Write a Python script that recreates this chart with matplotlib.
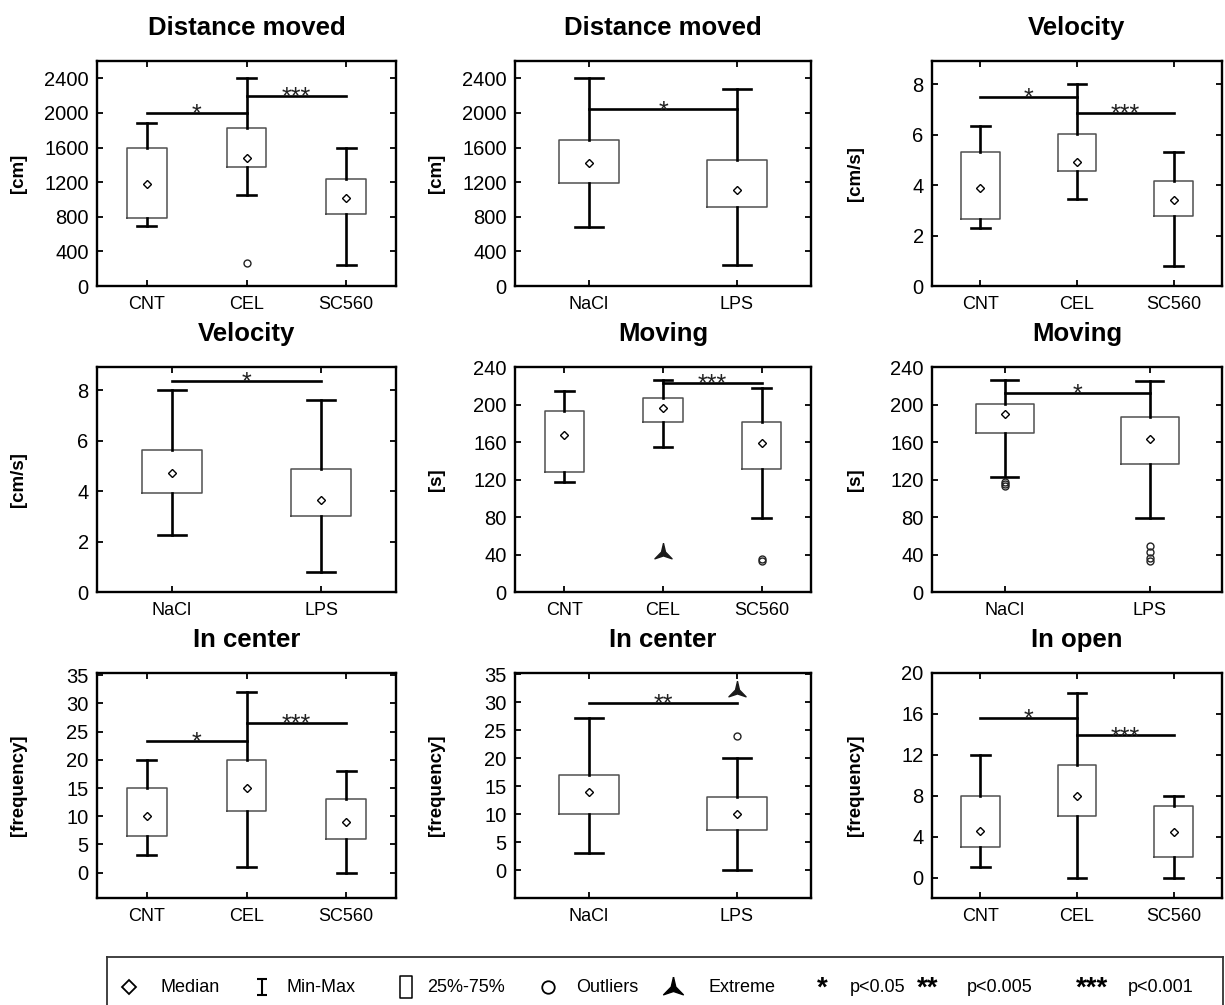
import matplotlib
matplotlib.use('Agg')
import matplotlib.pyplot as plt
from matplotlib.path import Path

plt.rcParams['font.family'] = ['Liberation Sans', 'DejaVu Sans']

groups3 = ['CNT', 'CEL', 'SC560']
groups2 = ['NaCl', 'LPS']

# Distance moved [cm], CNT / CEL / SC560
dist3_min = [690, 1050, 240]
dist3_q1 = [790, 1370, 830]
dist3_med = [1175, 1480, 1020]
dist3_q3 = [1590, 1825, 1240]
dist3_max = [1885, 2400, 1590]
dist3_out = [[], [270], []]
dist3_ext = [[], [], []]
dist3_sig = [(1, 2, 2000, '*'), (2, 3, 2200, '***')]

# Distance moved [cm], NaCl / LPS
dist2_min = [686, 247]
dist2_q1 = [1186, 909]
dist2_med = [1418, 1109]
dist2_q3 = [1687, 1460]
dist2_max = [2408, 2281]
dist2_out = [[], []]
dist2_ext = [[], []]
dist2_sig = [(1, 2, 2040, '*')]

# Velocity [cm/s], CNT / CEL / SC560
vel3_min = [2.31, 3.47, 0.80]
vel3_q1 = [2.64, 4.57, 2.79]
vel3_med = [3.88, 4.94, 3.42]
vel3_q3 = [5.33, 6.03, 4.16]
vel3_max = [6.34, 8.01, 5.30]
vel3_out = [[], [], []]
vel3_ext = [[], [], []]
vel3_sig = [(1, 2, 7.49, '*'), (2, 3, 6.87, '***')]

# Velocity [cm/s], NaCl / LPS
vel2_min = [2.27, 0.80]
vel2_q1 = [3.93, 3.00]
vel2_med = [4.71, 3.64]
vel2_q3 = [5.62, 4.87]
vel2_max = [8.03, 7.63]
vel2_out = [[], []]
vel2_ext = [[], []]
vel2_sig = [(1, 2, 8.39, '*')]

# Moving [s], CNT / CEL / SC560
mov3_min = [117, 155, 79]
mov3_q1 = [127.7, 181.5, 131.6]
mov3_med = [168, 196, 158.7]
mov3_q3 = [192.6, 206.5, 181]
mov3_max = [214, 226.5, 218]
mov3_out = [[], [], [35, 33]]
mov3_ext = [[], [43], []]
mov3_sig = [(2, 3, 223, '***')]

# Moving [s], NaCl / LPS
mov2_min = [123, 79]
mov2_q1 = [169.4, 136.2]
mov2_med = [190, 163.3]
mov2_q3 = [200.7, 186.2]
mov2_max = [226.5, 224.7]
mov2_out = [[117, 115, 113], [49, 43, 36, 33]]
mov2_ext = [[], []]
mov2_sig = [(1, 2, 212, '*')]

# In center [frequency], CNT / CEL / SC560
cen3_min = [3.1, 1.0, 0]
cen3_q1 = [6.5, 11, 6]
cen3_med = [10, 15, 9]
cen3_q3 = [15, 20, 13]
cen3_max = [20, 32, 18]
cen3_out = [[], [], []]
cen3_ext = [[], [], []]
cen3_sig = [(1, 2, 23.3, '*'), (2, 3, 26.5, '***')]

# In center [frequency], NaCl / LPS
cen2_min = [3, 0]
cen2_q1 = [10, 7.1]
cen2_med = [14, 10]
cen2_q3 = [17, 13]
cen2_max = [27.2, 20]
cen2_out = [[], [24]]
cen2_ext = [[], [32.2]]
cen2_sig = [(1, 2, 29.9, '**')]

# In open [frequency], CNT / CEL / SC560
open3_min = [1.05, 0, 0]
open3_q1 = [3, 6, 2]
open3_med = [4.55, 8, 4.5]
open3_q3 = [8, 11, 7]
open3_max = [12, 18, 8]
open3_out = [[], [], []]
open3_ext = [[], [], []]
open3_sig = [(1, 2, 15.6, '*'), (2, 3, 13.9, '***')]

panels = [
    ('Distance moved', '[cm]', groups3, dist3_min, dist3_q1, dist3_med, dist3_q3, dist3_max,
     dist3_out, dist3_ext, dist3_sig, (0, 2600), range(0, 2401, 400)),
    ('Distance moved', '[cm]', groups2, dist2_min, dist2_q1, dist2_med, dist2_q3, dist2_max,
     dist2_out, dist2_ext, dist2_sig, (0, 2600), range(0, 2401, 400)),
    ('Velocity', '[cm/s]', groups3, vel3_min, vel3_q1, vel3_med, vel3_q3, vel3_max,
     vel3_out, vel3_ext, vel3_sig, (0, 8.93), range(0, 9, 2)),
    ('Velocity', '[cm/s]', groups2, vel2_min, vel2_q1, vel2_med, vel2_q3, vel2_max,
     vel2_out, vel2_ext, vel2_sig, (0, 8.93), range(0, 9, 2)),
    ('Moving', '[s]', groups3, mov3_min, mov3_q1, mov3_med, mov3_q3, mov3_max,
     mov3_out, mov3_ext, mov3_sig, (0, 240), range(0, 241, 40)),
    ('Moving', '[s]', groups2, mov2_min, mov2_q1, mov2_med, mov2_q3, mov2_max,
     mov2_out, mov2_ext, mov2_sig, (0, 240), range(0, 241, 40)),
    ('In center', '[frequency]', groups3, cen3_min, cen3_q1, cen3_med, cen3_q3, cen3_max,
     cen3_out, cen3_ext, cen3_sig, (-4.5, 35.4), range(0, 36, 5)),
    ('In center', '[frequency]', groups2, cen2_min, cen2_q1, cen2_med, cen2_q3, cen2_max,
     cen2_out, cen2_ext, cen2_sig, (-5, 35.2), range(0, 36, 5)),
    ('In open', '[frequency]', groups3, open3_min, open3_q1, open3_med, open3_q3, open3_max,
     open3_out, open3_ext, open3_sig, (-2, 20), range(0, 21, 4)),
]

# "extreme" marker: filled arrow head with a notch at the bottom
ext_marker = Path([(0, 1), (0.22, 0.05), (0.95, -0.7), (0, -0.38), (-0.95, -0.7),
                   (-0.22, 0.05), (0, 1)])
minmax_marker = Path([(-0.6, 1), (0.6, 1), (0, 1), (0, -1), (-0.6, -1), (0.6, -1)],
                     [Path.MOVETO, Path.LINETO, Path.MOVETO, Path.LINETO, Path.MOVETO, Path.LINETO])
rect_marker = Path([(-0.55, -1), (0.55, -1), (0.55, 1), (-0.55, 1), (-0.55, -1)],
                   [Path.MOVETO, Path.LINETO, Path.LINETO, Path.LINETO, Path.CLOSEPOLY])

W, H = 1225, 1005
fig = plt.figure(figsize=(W / 100, H / 100), dpi=100)

col_left = [97, 515, 932]
col_width = [299, 296, 290]
row_top = [61, 367, 673]
ax_h = 225

for k, p in enumerate(panels):
    (title, ylab, groups, lo, q1, med, q3, hi, out, ext, sig, ylim, yticks) = p
    r, c = divmod(k, 3)
    ax = fig.add_axes([col_left[c] / W, 1 - (row_top[r] + ax_h) / H, col_width[c] / W, ax_h / H])

    stats = []
    for i, g in enumerate(groups):
        stats.append(dict(label=g, whislo=lo[i], q1=q1[i], med=med[i], mean=med[i],
                          q3=q3[i], whishi=hi[i], fliers=out[i]))
    bp = ax.bxp(stats, widths=0.4, capwidths=0.19, showmeans=True, showfliers=True,
                boxprops=dict(color='#505050', linewidth=1.1),
                whiskerprops=dict(color='black', linewidth=1.9),
                capprops=dict(color='black', linewidth=1.9),
                medianprops=dict(linewidth=0),
                meanprops=dict(marker='D', markersize=4, markerfacecolor='white',
                               markeredgecolor='black', markeredgewidth=1.0),
                flierprops=dict(marker='o', markersize=5, markerfacecolor='none',
                                markeredgecolor='#222222', markeredgewidth=1.0))
    for m in bp['medians']:
        m.set_visible(False)

    for i, vals in enumerate(ext):
        if vals:
            ax.plot([i + 1] * len(vals), vals, ls='none', marker=ext_marker, markersize=13,
                    color='#1a1a1a')

    for a, b, y, s in sig:
        ax.plot([a, b], [y, y], color='black', linewidth=1.9, zorder=3)
        ax.annotate(s, ((a + b) / 2, y), xytext=(0, -6.5), textcoords='offset points',
                    ha='center', va='baseline', fontsize=18, color='#222222')

    ax.set_xlim(0.5, len(groups) + 0.5)
    ax.set_ylim(*ylim)
    ax.set_yticks(list(yticks))
    ax.set_title(title, fontsize=18.5, fontweight='bold', pad=19)
    ax.set_ylabel(ylab, fontsize=13.5, fontweight='bold')
    ax.yaxis.set_label_coords(-0.235, 0.5)
    ax.tick_params(direction='in', top=True, right=True, length=4, width=1.3)
    ax.tick_params(axis='y', labelsize=14.5, pad=6)
    ax.tick_params(axis='x', labelsize=13, pad=7)
    for sp in ax.spines.values():
        sp.set_linewidth(1.7)

# legend strip at the bottom
lg = fig.add_axes([0, 0, 1, 1], zorder=-1)
lg.set_xlim(0, W)
lg.set_ylim(H, 0)
lg.axis('off')
lg.plot([107, 1223], [957, 957], color='#333333', linewidth=1.3)
lg.plot([107, 107], [957, H + 5], color='#333333', linewidth=1.3)
lg.plot([1223, 1223], [957, H + 5], color='#333333', linewidth=1.3)

yl = 987
lg.plot(129, yl, marker='D', markersize=7, markerfacecolor='white', markeredgecolor='black',
        markeredgewidth=1.3)
lg.text(160, yl, 'Median', fontsize=13, va='center')
lg.plot(262, yl, marker=minmax_marker, markersize=11, color='black', markeredgewidth=1.5)
lg.text(286, yl, 'Min-Max', fontsize=13, va='center')
lg.plot(406, yl, marker=rect_marker, markersize=16, markerfacecolor='white',
        markeredgecolor='black', markeredgewidth=1.1)
lg.text(427, yl, '25%-75%', fontsize=13, va='center')
lg.plot(548, yl, marker='o', markersize=9, markerfacecolor='white', markeredgecolor='black',
        markeredgewidth=1.3)
lg.text(576, yl, 'Outliers', fontsize=13, va='center')
lg.plot(673, yl, marker=ext_marker, markersize=15, color='black')
lg.text(709, yl, 'Extreme', fontsize=13, va='center')
for sx, stars, tx, lab in [(822, '*', 850, 'p<0.05'), (928, '**', 967, 'p<0.005'),
                           (1092, '***', 1128, 'p<0.001')]:
    lg.text(sx, yl + 9, stars, fontsize=20, fontweight='bold', ha='center', va='baseline')
    lg.text(tx, yl, lab, fontsize=13, va='center')

fig.savefig('out.png', dpi=100)
